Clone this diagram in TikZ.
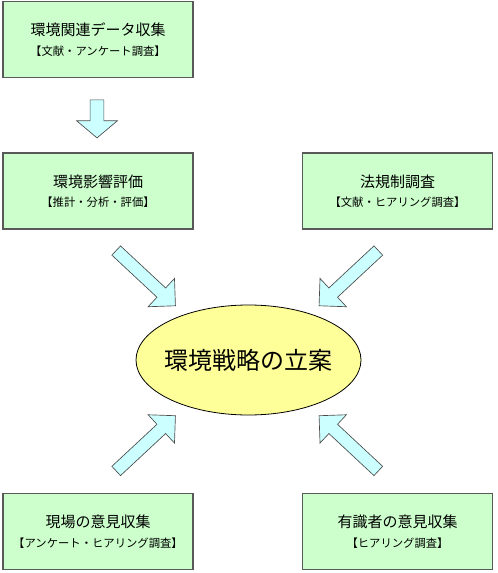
\documentclass[tikz,border=0pt]{standalone}
\usepackage{fontspec}
\setmainfont{Noto Sans CJK JP}
\usetikzlibrary{shapes.geometric,shapes.arrows}
\definecolor{boxgreen}{HTML}{CCFFCC}
\definecolor{planyellow}{HTML}{FFFF99}
\definecolor{arrowcyan}{HTML}{CCFFFF}
\newcommand\notefont{\fontsize{8.5}{10}\selectfont}

\begin{document}
\begin{tikzpicture}[x=0.75pt,y=-0.75pt,
  survey/.style={draw=black!65,line width=0.8pt,fill=boxgreen,
    minimum width=142.5pt,minimum height=57pt,inner sep=0pt,align=center,
    font=\fontsize{11.25}{14.5}\selectfont},
  flow/.style={single arrow,draw=black!70,line width=0.5pt,fill=arrowcyan,
    inner xsep=0pt,inner ysep=4.5pt,single arrow head extend=9.75pt,
    minimum height=60.75pt}]
  \useasboundingbox (0,0) rectangle (497,573);

  \node[survey] (data) at (98,39.5) {環境関連データ収集\\{\notefont 【文献・アンケート調査】}};
  \node[survey] (impact) at (98,191) {環境影響評価\\{\notefont 【推計・分析・評価】}};
  \node[survey] (law) at (397.5,191) {法規制調査\\{\notefont 【文献・ヒアリング調査】}};
  \node[survey] (site) at (98,531.5) {現場の意見収集\\{\notefont 【アンケート・ヒアリング調査】}};
  \node[survey] (expert) at (397.5,531.5) {有識者の意見収集\\{\notefont 【ヒアリング調査】}};

  \node[ellipse,draw=black,line width=0.6pt,fill=planyellow,inner sep=0pt,
    minimum width=168.75pt,minimum height=82.5pt,
    label={[font=\fontsize{18}{20}\selectfont]center:環境戦略の立案}] (plan) at (248.5,360) {};

  \node[flow,rotate=-90,minimum height=28.5pt,inner ysep=4.9pt,
    single arrow head extend=10.1pt,single arrow tip angle=100] (down) at (97,116) {};
  \node[flow,rotate=-43] (fromimpact) at (143.5,276) {};
  \node[flow,rotate=-137] (fromlaw) at (351,276) {};
  \node[flow,rotate=43] (fromsite) at (143.5,445.5) {};
  \node[flow,rotate=137] (fromexpert) at (351,445.5) {};
\end{tikzpicture}
\end{document}
